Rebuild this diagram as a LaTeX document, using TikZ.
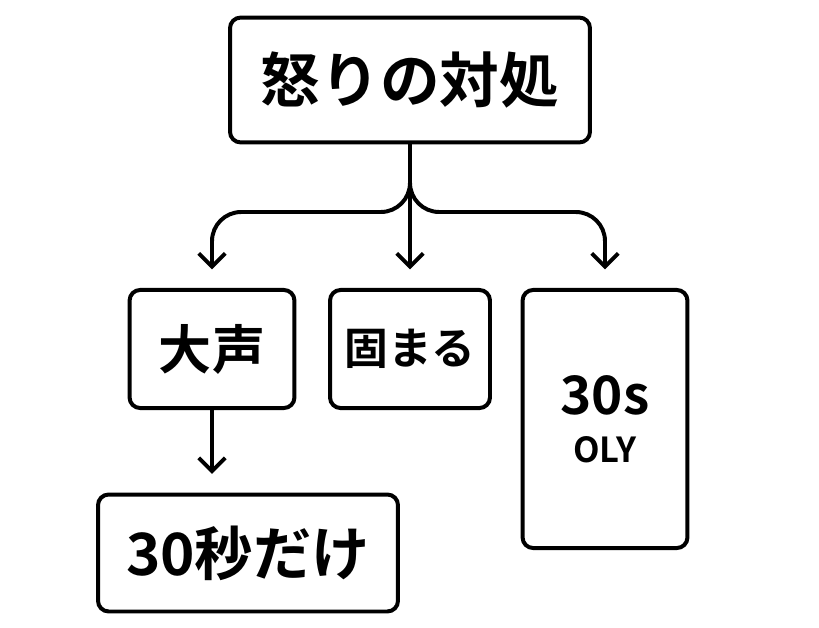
\documentclass[tikz,border=0pt]{standalone}
\usepackage{fontspec}
\setmainfont{Noto Sans CJK JP Bold}
\usetikzlibrary{arrows.meta}
\tikzset{
	box/.style={rectangle, draw=black, line width=3pt, rounded corners=8pt, inner sep=0pt},
	link/.style={line width=3pt, -{Straight Barb[length=10pt,width=20pt,line width=3pt]}, shorten >=14pt, rounded corners=22pt}
}
\begin{document}
\begin{tikzpicture}[x=0.0265cm,y=-0.0265cm]
		\useasboundingbox (0,0) rectangle (819,627);
		\node[box, minimum width=9.54cm, minimum height=3.31cm, font=\fontsize{45}{48}\selectfont](anger) at (410,80){怒りの対処};
		\node[box, minimum width=4.37cm, minimum height=3.13cm, font=\fontsize{40}{42}\selectfont](loud) at (212,349){大声};
		\node[box, minimum width=4.24cm, minimum height=3.13cm, font=\fontsize{33}{36}\selectfont](freeze) at (410,349){固まる};
		\node[box, minimum width=4.37cm, minimum height=6.84cm](wait) at (605,419){};
		\node[font=\fontsize{40}{42}\selectfont](waitA) at (605,395){30s};
		\node[font=\fontsize{26}{28}\selectfont](waitB) at (605,450){OLY};
		\node[box, minimum width=7.95cm, minimum height=3.1cm, font=\fontsize{44}{46}\selectfont](only) at (248,553){30秒だけ};

		% branch edges
		\draw[link] (anger.south) -- (410,212) -| (loud.north);
		\draw[link] (anger.south) -- (freeze.north);
		\draw[link] (anger.south) -- (410,212) -| (wait.north);

		% follow edge
		\draw[link] (loud.south) -- (loud.south |- only.north);
\end{tikzpicture}
\end{document}
